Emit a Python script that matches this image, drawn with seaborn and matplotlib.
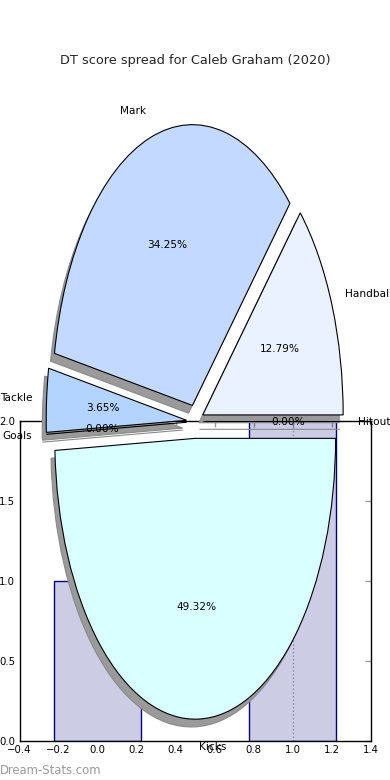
import matplotlib

matplotlib.use("Agg")
import matplotlib.pyplot as plt
import seaborn as sns

# DT points by stat, in the order the wedges go round from 0 degrees
stat_names = ["Hitout", "Handball", "Mark", "Tackle", "Goals", "Kicks"]
dt_points = [0, 28, 75, 8, 0, 108]
wedge_colours = ["#eef4ff", "#eaf1ff", "#c4d9ff", "#b3d4ff", "#cfe6ff", "#d9ffff"]

# the bar panel sitting under the pie
bar_x = [0, 1]
bar_heights = [1, 2]
dotted_x = [1.0]
x_ticks = [-0.4, -0.2, 0.0, 0.2, 0.4, 0.6, 0.8, 1.0, 1.2, 1.4]
y_ticks = [0.0, 0.5, 1.0, 1.5, 2.0]

TITLE = "DT score spread for Caleb Graham (2020)"

sns.set_style("white")
plt.rcParams["font.family"] = ["DejaVu Sans"]

fig = plt.figure(figsize=(3.9, 7.8), dpi=100)

# Bar axes
ax_bar = fig.add_axes([0.05, 0.05, 0.9, 0.41])
sns.barplot(
    x=bar_x,
    y=bar_heights,
    native_scale=True,
    width=0.45,
    color="navy",
    saturation=1,
    edgecolor="navy",
    linewidth=1,
    ax=ax_bar,
)
for bar in ax_bar.patches:
    bar.set_facecolor((0, 0, 0.5, 0.2))
for x in dotted_x:
    ax_bar.axvline(x, color="#aaaaaa", linestyle=":", linewidth=1, zorder=0)
ax_bar.set_xlim(-0.4, 1.4)
ax_bar.set_ylim(0, 2.0)
ax_bar.set_xticks(x_ticks)
ax_bar.set_xticklabels([f"{t:.1f}".replace("-", "\u2212") for t in x_ticks])
ax_bar.set_yticks(y_ticks)
ax_bar.set_yticklabels([f"{t:.1f}" for t in y_ticks])
ax_bar.tick_params(
    direction="in", length=4, width=1, color="#999999", labelcolor="black",
    labelsize=7.3, top=True, right=True, pad=3,
)
for spine in ax_bar.spines.values():
    spine.set_color("black")
    spine.set_linewidth(1)

# Pie axes on top, stretched (no equal aspect)
ax_pie = fig.add_axes([0.05, 0.0096, 0.9, 0.9])
ax_pie.pie(
    dt_points,
    labels=stat_names,
    colors=wedge_colours,
    explode=[0.06] * len(dt_points),
    autopct="%1.2f%%",
    shadow={"facecolor": "#9a9a9a", "edgecolor": "#8a8a8a", "alpha": 1.0},
    startangle=0,
    wedgeprops={"edgecolor": "black", "linewidth": 0.8},
    textprops={"fontsize": 7.6, "color": "black"},
)
ax_pie.set_aspect("auto")
ax_pie.set_xlim(-1.25, 1.25)
ax_pie.set_ylim(-1.25, 1.25)
ax_pie.set_frame_on(False)
ax_pie.set_xticks([])
ax_pie.set_yticks([])
ax_pie.set_title(TITLE, fontsize=9.3, pad=4.5)

fig.text(0.0, 0.0128, "Dream-Stats.com", color="#999999", fontsize=8.4,
         ha="left", va="center")

fig.savefig("out.png", dpi=100)
